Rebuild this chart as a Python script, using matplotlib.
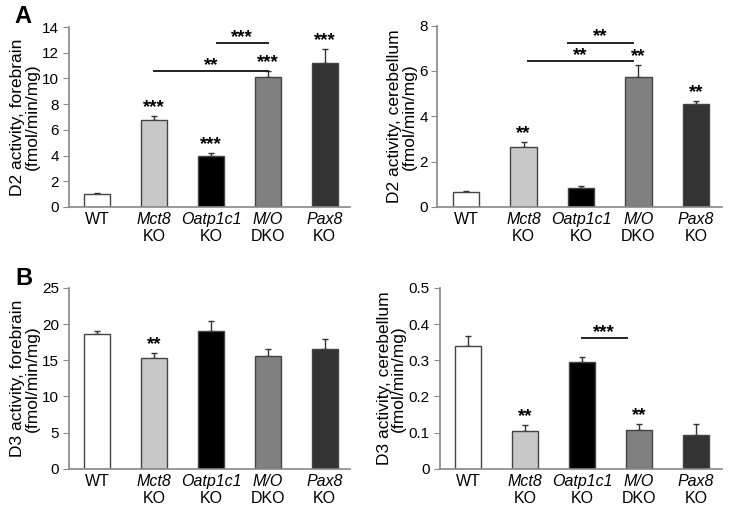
import matplotlib.pyplot as plt
import numpy as np

plt.rcParams['font.family'] = ['Liberation Sans', 'DejaVu Sans']

# grupos (los nombres de gen van en cursiva, la segunda línea no)
grupos_1 = ["WT", "Mct8", "Oatp1c1", "M/O", "Pax8"]
grupos_2 = ["", "KO", "KO", "DKO", "KO"]
colores = ["#ffffff", "#c8c8c8", "#000000", "#808080", "#333333"]

# D2 prosencéfalo
d2_fb = [1.0, 6.75, 3.97, 10.15, 11.2]
d2_fb_err = [0.05, 0.35, 0.2, 0.45, 1.1]
d2_fb_sig = ["", "***", "***", "***", "***"]
d2_fb_lineas = [(1.0, 3.0, 10.6, "**"), (2.1, 3.0, 12.75, "***")]

# D2 cerebelo
d2_cb = [0.65, 2.63, 0.83, 5.72, 4.52]
d2_cb_err = [0.07, 0.25, 0.08, 0.55, 0.17]
d2_cb_sig = ["", "**", "", "**", "**"]
d2_cb_lineas = [(1.08, 2.9, 6.44, "**"), (1.77, 2.9, 7.25, "**")]

# D3 prosencéfalo
d3_fb = [18.6, 15.35, 19.0, 15.65, 16.55]
d3_fb_err = [0.5, 0.6, 1.4, 0.85, 1.4]
d3_fb_sig = ["", "**", "", "", ""]
d3_fb_lineas = []

# D3 cerebelo
d3_cb = [0.34, 0.105, 0.295, 0.108, 0.092]
d3_cb_err = [0.028, 0.015, 0.013, 0.017, 0.032]
d3_cb_sig = ["", "**", "", "**", ""]
d3_cb_lineas = [(2.0, 2.78, 0.362, "***")]

fig = plt.figure(figsize=(7.44, 5.12), dpi=100)

paneles = [
    ([0.0927, 0.596, 0.378, 0.351], d2_fb, d2_fb_err, d2_fb_sig, d2_fb_lineas, 14, 2,
     "D2 activity, forebrain\n(fmol/min/mg)", "{:.0f}"),
    ([0.588, 0.596, 0.382, 0.354], d2_cb, d2_cb_err, d2_cb_sig, d2_cb_lineas, 8, 2,
     "D2 activity, cerebellum\n(fmol/min/mg)", "{:.0f}"),
    ([0.0927, 0.0846, 0.378, 0.353], d3_fb, d3_fb_err, d3_fb_sig, d3_fb_lineas, 25, 5,
     "D3 activity, forebrain\n(fmol/min/mg)", "{:.0f}"),
    ([0.591, 0.0846, 0.379, 0.353], d3_cb, d3_cb_err, d3_cb_sig, d3_cb_lineas, 0.5, 0.1,
     "D3 activity, cerebellum\n(fmol/min/mg)", "{:g}"),
]

x = np.arange(len(grupos_1))
for pos, vals, err, sig, lineas, ymax, paso, etiqueta, fmt in paneles:
    ax = fig.add_axes(pos)
    ax.bar(x, vals, width=0.46, color=colores, edgecolor="#444444", linewidth=1, zorder=2)
    ax.errorbar(x, vals, yerr=[np.zeros(len(vals)), err], fmt="none",
                ecolor="#333333", elinewidth=1, capsize=2.5, capthick=1, zorder=1)
    for xi, v, e, s in zip(x, vals, err, sig):
        if s:
            ax.annotate(s, (xi, v + e), xytext=(0, 6), textcoords="offset points",
                        ha="center", va="center", fontsize=13.5, fontweight="bold")
    for x1, x2, y, s in lineas:
        ax.plot([x1, x2], [y, y], color="#222222", lw=1.4)
        ax.annotate(s, ((x1 + x2) / 2, y), xytext=(0, 4), textcoords="offset points",
                    ha="center", va="center", fontsize=13.5, fontweight="bold")
    ax.set_xlim(-0.5, 4.45)
    ax.set_ylim(0, ymax)
    ticks = np.arange(0, ymax + paso / 2, paso)
    ax.set_yticks(ticks)
    ax.set_yticklabels([fmt.format(t) for t in ticks])
    ax.set_xticks(x)
    ax.set_xticklabels([])
    ax.tick_params(axis="x", length=0)
    ax.tick_params(axis="y", direction="out", length=4, color="#888888", labelsize=11, pad=3)
    for lado in ["top", "right"]:
        ax.spines[lado].set_visible(False)
    for lado in ["left", "bottom"]:
        ax.spines[lado].set_color("#888888")
        ax.spines[lado].set_linewidth(1.2)
    ax.set_ylabel(etiqueta, fontsize=12.5, labelpad=2, linespacing=0.95)
    for xi, g1, g2 in zip(x, grupos_1, grupos_2):
        estilo = "normal" if g1 == "WT" else "italic"
        ax.annotate(g1, (xi, 0), xytext=(0, -4), textcoords="offset points",
                    ha="center", va="top", fontsize=11.5, style=estilo)
        if g2:
            ax.annotate(g2, (xi, 0), xytext=(0, -16), textcoords="offset points",
                        ha="center", va="top", fontsize=11.5)

fig.text(0.02, 0.99, "A", fontsize=17, fontweight="bold", va="top")
fig.text(0.02, 0.478, "B", fontsize=17, fontweight="bold", va="top")

plt.savefig("out.png", dpi=100)
